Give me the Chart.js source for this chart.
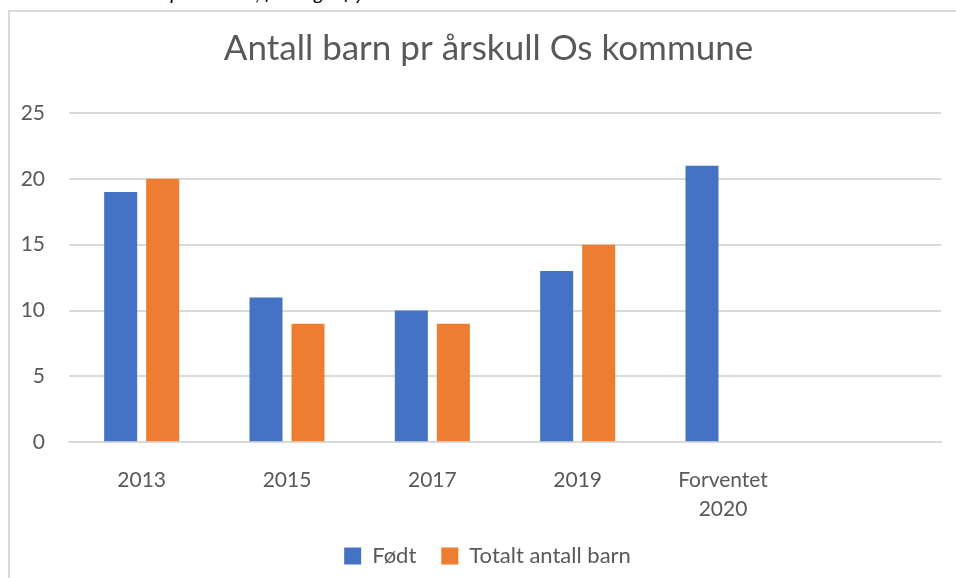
<!DOCTYPE html>
<html>
<head>
<meta charset="utf-8">
<script src="https://cdn.jsdelivr.net/npm/chart.js@4"></script>
<style>
  body { margin: 0; background: #fff; overflow: hidden; }
  #caption { position: absolute; left: 0; top: -20px; font: italic 20px Lato, sans-serif; color: #000; white-space: nowrap; }
  #box { position: absolute; left: 8px; top: 10px; width: 958px; height: 600px; border: 2px solid #d9d9d9; }
</style>
</head>
<body>
<div id="caption">Tabell 1: Antall barn per årskull, født og tilflyttet barn i Os kommune</div>
<div id="box"><canvas id="myChart" width="958" height="584"></canvas></div>
<script>
var years = ['2013', '2015', '2017', '2019', ['Forventet', '2020'], ''];
var fodt = [19, 11, 10, 13, 21, null];
var totalt = [20, 9, 9, 15, null, null];
var yTicks = [0, 5, 10, 15, 20, 25];

var grey = '#595959';

// centre title and legend on the whole box, and lift the legend a bit
var nudge = {
    id: 'nudge',
    afterLayout: function (chart) {
        var t = chart.titleBlock, l = chart.legend;
        t.left += 13; t.right += 13;
        l.left += 12; l.right += 12;
        l.top -= 19; l.bottom -= 19;
    }
};

var ctx = document.getElementById('myChart');
var myChart = new Chart(ctx, {
    type: 'bar',
    data: {
        labels: years,
        datasets: [
            {
                label: 'Født',
                data: fodt,
                backgroundColor: '#4472c4',
                categoryPercentage: 0.578,
                barPercentage: 0.786
            },
            {
                label: 'Totalt antall barn',
                data: totalt,
                backgroundColor: '#ed7d31',
                categoryPercentage: 0.578,
                barPercentage: 0.786
            }
        ]
    },
    plugins: [nudge],
    options: {
        responsive: false,
        animation: false,
        layout: { padding: { left: 0, right: 27, top: 0, bottom: 0 } },
        plugins: {
            title: {
                display: true,
                text: 'Antall barn pr årskull Os kommune',
                color: grey,
                font: { family: 'Lato', size: 35, weight: 'normal' },
                padding: { top: 16, bottom: 43 }
            },
            legend: {
                position: 'bottom',
                labels: {
                    color: grey,
                    font: { family: 'Lato', size: 22 },
                    boxWidth: 17,
                    boxHeight: 17,
                    padding: 25
                }
            },
            tooltip: { enabled: false }
        },
        scales: {
            x: {
                grid: { display: false },
                border: { color: '#d9d9d9', width: 2 },
                ticks: {
                    color: grey,
                    font: { family: 'Lato', size: 21, lineHeight: 1.35 },
                    padding: 16,
                    maxRotation: 0
                }
            },
            y: {
                min: 0,
                max: 25,
                afterFit: function (scale) { scale.width = 59; },
                afterBuildTicks: function (scale) {
                    scale.ticks = yTicks.map(function (v) { return { value: v }; });
                },
                grid: { color: '#d9d9d9', lineWidth: 2, drawTicks: false },
                border: { display: false },
                ticks: {
                    color: grey,
                    font: { family: 'Lato', size: 21 },
                    padding: 24
                }
            }
        }
    }
});
</script>
</body>
</html>
